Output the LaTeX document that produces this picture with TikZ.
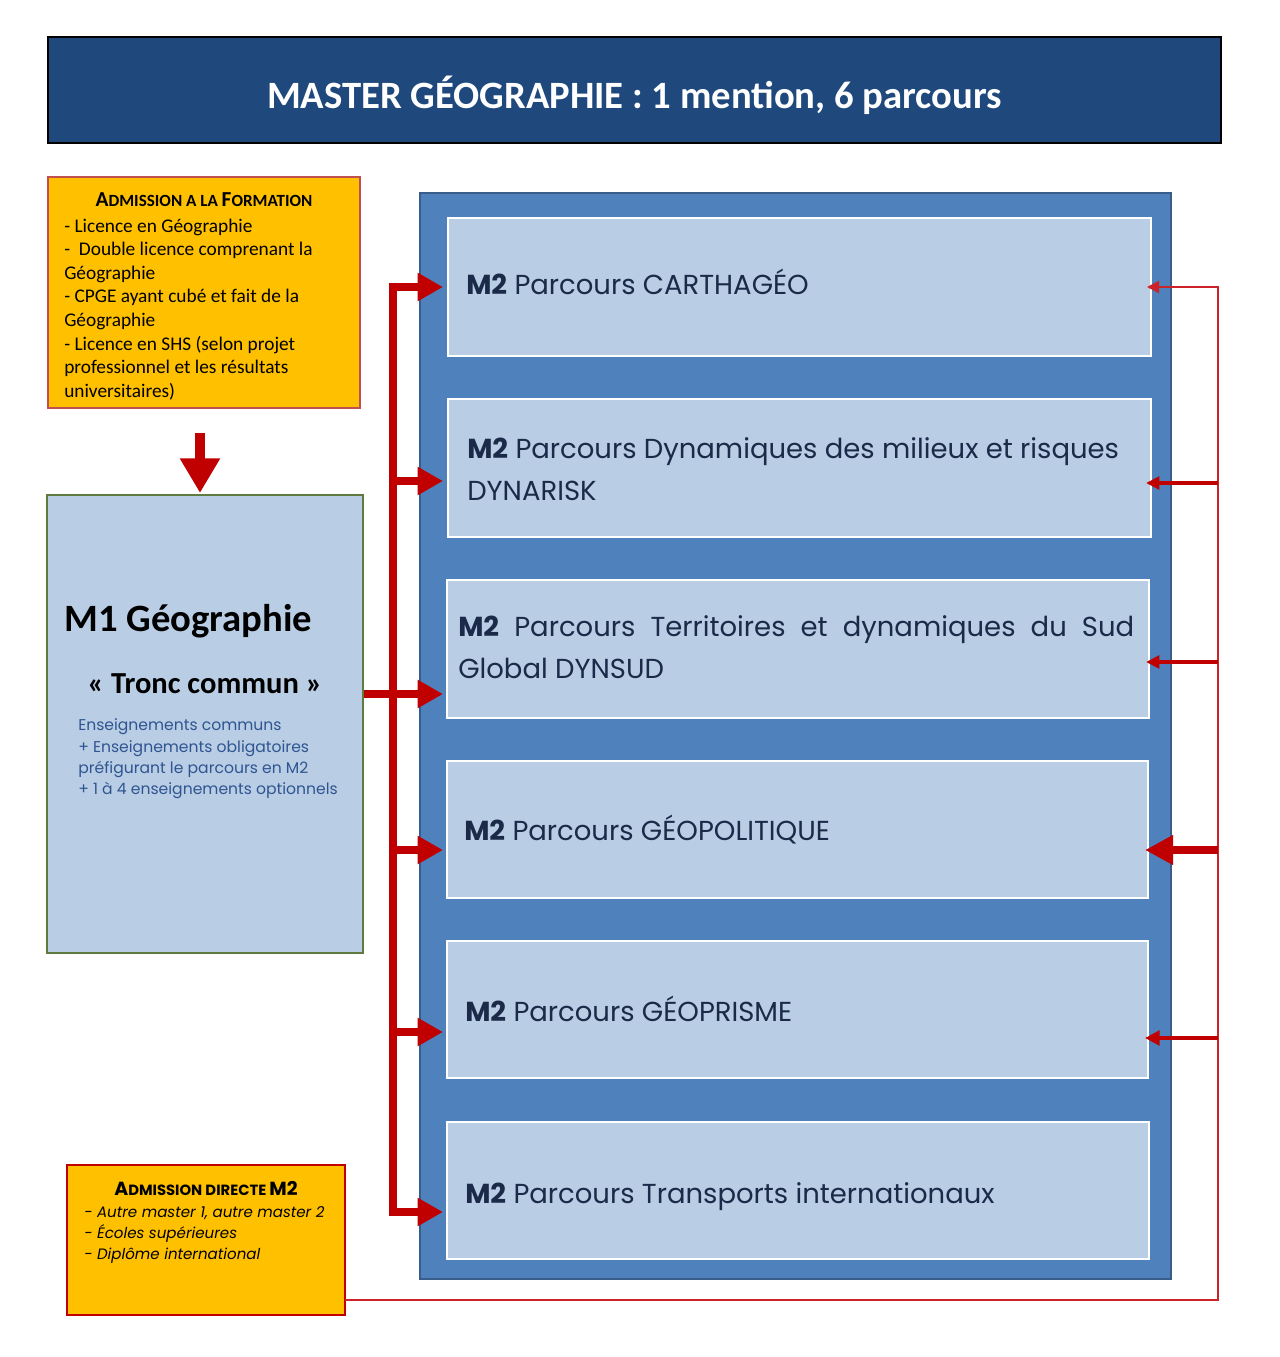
\documentclass[tikz,border=0pt]{standalone}
\usepackage{fontspec}
\setmainfont{Carlito}
\newfontfamily\futura{Poppins}
\usetikzlibrary{arrows.meta,fit}
\definecolor{titleblue}{HTML}{1F497D}
\definecolor{midblue}{HTML}{4F81BD}
\definecolor{midborder}{HTML}{385D8A}
\definecolor{lightblue}{HTML}{B9CDE5}
\definecolor{gold}{HTML}{FFC000}
\definecolor{admborder}{HTML}{C0504D}
\definecolor{arrowred}{HTML}{C00000}
\definecolor{thinred}{HTML}{CC2229}
\definecolor{m1border}{HTML}{5E7A3D}
\definecolor{m1text}{HTML}{2F5590}
\definecolor{m2text}{HTML}{1A2A48}
\tikzset{
  m2box/.style={draw=white, line width=1.5pt, fill=lightblue, inner sep=0pt},
  m2line/.style={anchor=base west, inner sep=0pt, text=m2text, font=\futura\fontsize{20.6}{24}\selectfont},
  admline/.style={anchor=base west, inner sep=0pt, font=\fontsize{14.5}{17}\selectfont},
  m1line/.style={anchor=base west, inner sep=0pt, text=m1text, font=\futura\fontsize{11.7}{14}\selectfont},
  adm2line/.style={anchor=base west, inner sep=0pt, font=\futura\itshape\fontsize{11.3}{13}\selectfont},
  bus/.style={draw=arrowred, line width=6pt},
  bigtip/.style={-{Triangle[width=20pt,length=19pt]}},
}
\begin{document}
\begin{tikzpicture}[x=0.75pt,y=-0.75pt]
\useasboundingbox (0,0) rectangle (1279,1357);
\fill[white] (0,0) rectangle (1279,1357);

% title
\node[fit={(48,37)(1221,143)}, inner sep=0pt, draw=black, line width=0.9pt, fill=titleblue] (title) {};
\node[anchor=base, inner sep=0pt, text=white, font=\bfseries\fontsize{29}{34}\selectfont] (titlet) at (634.5,108) {MASTER GÉOGRAPHIE : 1 mention, 6 parcours};

% admission box
\node[fit={(48,177)(360,408)}, inner sep=0pt, draw=admborder, line width=1.2pt, fill=gold] (adm) {};
\node[anchor=base, inner sep=0pt, font=\bfseries] (admt) at (204,206)
  {\fontsize{16}{18}\selectfont A\fontsize{12.8}{18}\selectfont DMISSION A LA \fontsize{16}{18}\selectfont F\fontsize{12.8}{18}\selectfont ORMATION};
\node[admline] (a1) at (64,232) {- Licence en Géographie};
\node[admline] (a2) at (64,255) {-\ \ Double licence comprenant la};
\node[admline] (a3) at (64,279) {Géographie};
\node[admline] (a4) at (64,302) {- CPGE ayant cubé et fait de la};
\node[admline] (a5) at (64,326) {Géographie};
\node[admline] (a6) at (64,350) {- Licence en SHS (selon projet};
\node[admline] (a7) at (64,373) {professionnel et les résultats};
\node[admline] (a8) at (64,397) {universitaires)};

% M1 box
\node[fit={(47,495)(363,953)}, inner sep=0pt, draw=m1border, line width=1.1pt, fill=lightblue] (m1) {};
\node[anchor=base west, inner sep=0pt, font=\bfseries\fontsize{29}{34}\selectfont] (m1t) at (64,631) {M1 Géographie};
\node[anchor=base, inner sep=0pt, font=\bfseries\fontsize{22.9}{27}\selectfont] (m1s) at (205,693) {« Tronc commun »};
\node[m1line] (b1) at (78,730) {Enseignements communs};
\node[m1line] (b2) at (78,752) {+ Enseignements obligatoires};
\node[m1line] (b3) at (78,773) {préfigurant le parcours en M2};
\node[m1line] (b4) at (78,794) {+ 1 à 4 enseignements optionnels};

% container
\node[fit={(420,193)(1171,1279)}, inner sep=0pt, draw=midborder, line width=1.6pt, fill=midblue] (cont) {};

% M2 boxes
\node[m2box, fit={(448,218)(1151,356)}] (p1) {};
\node[m2box, fit={(448,399)(1151,537)}] (p2) {};
\node[m2box, fit={(447,580)(1149,718)}] (p3) {};
\node[m2box, fit={(447,761)(1148,898)}] (p4) {};
\node[m2box, fit={(447,941)(1148,1078)}] (p5) {};
\node[m2box, fit={(447,1122)(1149,1259)}] (p6) {};

\node[m2line] (p1t) at (466,294) {\textbf{M2} Parcours CARTHAGÉO};
\node[m2line] (p2t) at (467,458) {\textbf{M2} Parcours Dynamiques des milieux et risques};
\node[m2line] (p2u) at (467,500) {DYNARISK};
\node[m2line] (p3t) at (458,636) {\makebox[507pt][s]{\textbf{M2} Parcours Territoires et dynamiques du Sud}};
\node[m2line] (p3u) at (458,678) {Global DYNSUD};
\node[m2line] (p4t) at (464,840) {\textbf{M2} Parcours GÉOPOLITIQUE};
\node[m2line] (p5t) at (465,1021) {\textbf{M2} Parcours GÉOPRISME};
\node[m2line] (p6t) at (465,1203) {\textbf{M2} Parcours Transports internationaux};

% admission directe box
\node[fit={(67,1165)(345,1315)}, inner sep=0pt, draw=arrowred, line width=1.2pt, fill=gold] (adm2) {};
\node[anchor=base, inner sep=0pt, font=\futura\bfseries] (adm2t) at (206,1195)
  {\fontsize{14.2}{16}\selectfont A\fontsize{11.1}{16}\selectfont DMISSION DIRECTE \fontsize{14.2}{16}\selectfont M2};
\node[adm2line] (c1) at (84,1217) {- Autre master 1, autre master 2};
\node[adm2line] (c2) at (84,1238) {- Écoles supérieures};
\node[adm2line] (c3) at (84,1259) {- Diplôme international};

% down arrow
\coordinate (d0) at (200,433);
\coordinate (d1) at (200,493);
\draw[arrowred, line width=8pt, -{Triangle[width=28.5pt,length=26pt]}] (d0) -- (d1);

% left bus
\coordinate (t1) at (443,287);
\coordinate (t2) at (443,481);
\coordinate (t3) at (443,694);
\coordinate (t4) at (443,850);
\coordinate (t5) at (443,1032);
\coordinate (t6) at (443,1212);
\coordinate (bt) at (393,287);
\coordinate (bb) at (393,1212);
\draw[bus, {Triangle[width=20pt,length=19pt]}-{Triangle[width=20pt,length=19pt]}, line join=miter]
  (t1) -- (bt) -- (bb) -- (t6);
\draw[bus, bigtip] (bt |- t2) -- (t2);
\draw[bus, bigtip] (m1.east |- t3) -- (t3);
\draw[bus, bigtip] (bt |- t4) -- (t4);
\draw[bus, bigtip] (bt |- t5) -- (t5);

% right connectors
\coordinate (e0) at (345,1300);
\coordinate (rc) at (1218,1300);
\coordinate (rt) at (1218,287);
\coordinate (r1) at (1147,287);
\coordinate (r2) at (1146,483);
\coordinate (r3) at (1146,662);
\coordinate (r4) at (1145,850);
\coordinate (r5) at (1145,1038);
\draw[thinred, line width=1.5pt, line join=miter, -{Triangle[width=9pt,length=9pt]}] (e0) -- (rc) -- (rt) -- (r1);
\draw[arrowred, line width=3pt, -{Triangle[width=9.5pt,length=10pt]}] (rt |- r2) -- (r2);
\draw[arrowred, line width=3pt, -{Triangle[width=9.5pt,length=10pt]}] (rt |- r3) -- (r3);
\draw[arrowred, line width=6pt, -{Triangle[width=21pt,length=21pt]}] (rt |- r4) -- (r4);
\draw[arrowred, line width=3pt, -{Triangle[width=11pt,length=11pt]}] (rt |- r5) -- (r5);
\end{tikzpicture}
\end{document}
